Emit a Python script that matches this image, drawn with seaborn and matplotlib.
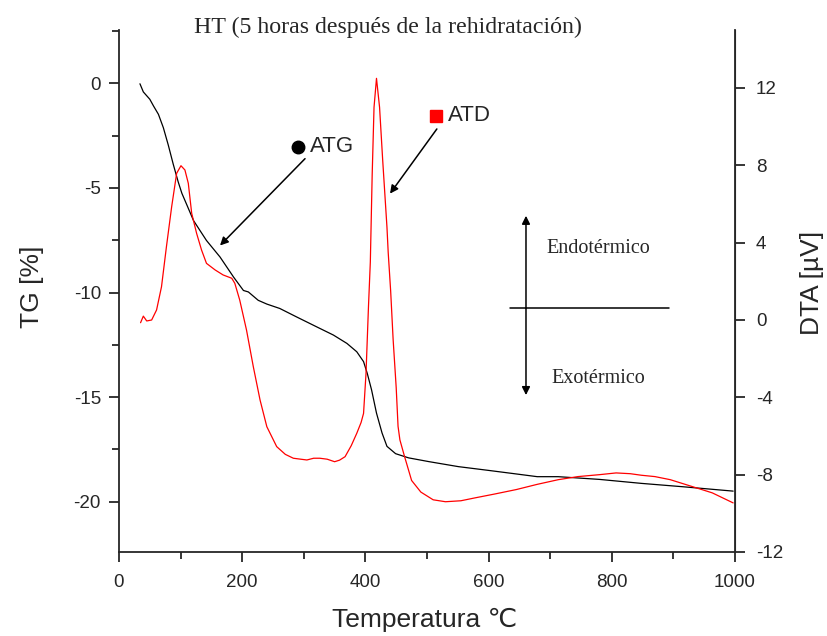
import matplotlib
matplotlib.use("Agg")
import matplotlib.pyplot as plt
import seaborn as sns
import numpy as np
import pandas as pd
from matplotlib.ticker import MultipleLocator

# ---- data ----
tg_x = [34, 39.5, 50, 56, 64, 72, 80, 88, 96, 102, 110, 121, 142, 164, 186, 202, 210, 226, 240, 261,
        288, 321, 348, 370, 386, 397, 403, 410, 418, 427, 435, 449, 470, 503, 551, 600, 645, 679, 713,
        780, 848, 915, 997]
tg_y = [-0.02, -0.41, -0.76, -1.08, -1.48, -2.12, -2.95, -3.86, -4.7, -5.25, -5.8, -6.56, -7.51, -8.3,
        -9.26, -9.9, -9.97, -10.37, -10.55, -10.76, -11.16, -11.64, -12.03, -12.43, -12.83, -13.3,
        -13.86, -14.65, -15.76, -16.71, -17.35, -17.7, -17.9, -18.08, -18.32, -18.5, -18.67, -18.8,
        -18.8, -18.93, -19.12, -19.28, -19.49]

dta_x = [35, 39.5, 45, 53, 61, 69, 77, 85.5, 93.6, 100.6, 107, 112.5, 118, 126, 134, 142, 156, 169,
         183, 188, 196, 207, 218, 229, 240, 256, 270, 283, 295, 305, 316, 326, 338, 350, 358, 367, 377,
         386, 393, 397, 401, 405, 408, 411, 414, 418, 423, 428, 435, 437, 441, 445, 450, 453, 456, 463,
         475, 490, 510, 530, 555, 578, 610, 645, 679, 713, 745, 780, 807, 830, 848, 870, 895, 929, 963, 997]
dta_y = [-0.14, 0.2, -0.05, 0.0, 0.52, 1.72, 3.79, 5.86, 7.59, 7.98, 7.76, 7.07, 5.52, 4.48, 3.62, 2.93,
         2.59, 2.33, 2.16, 1.9, 1.03, -0.52, -2.41, -4.14, -5.52, -6.55, -6.95, -7.15, -7.2, -7.24,
         -7.15, -7.15, -7.2, -7.33, -7.25, -7.07, -6.5, -5.86, -5.3, -4.83, -2.76, 0.7, 3.0, 7.5, 11.0,
         12.5, 11.0, 8.3, 4.8, 3.5, 1.5, -1.0, -3.5, -5.5, -6.2, -7.0, -8.3, -8.9, -9.3, -9.4, -9.35,
         -9.2, -9.0, -8.77, -8.5, -8.26, -8.1, -8.0, -7.91, -7.95, -8.03, -8.1, -8.26, -8.6, -8.94, -9.46]

x_ticks = [0, 200, 400, 600, 800, 1000]
tg_ticks = [0, -5, -10, -15, -20]
dta_ticks = [-12, -8, -4, 0, 4, 8, 12]

title = "HT (5 horas después de la rehidratación)"

# ---- style ----
sns.set_style("ticks")
plt.rcParams['font.family'] = ['Liberation Sans', 'DejaVu Sans']
plt.rcParams['axes.unicode_minus'] = False
serif = ['Liberation Serif', 'DejaVu Serif']

W, H = 828, 636
fig = plt.figure(figsize=(W / 100, H / 100), dpi=100)
ax = fig.add_axes([119 / W, 84 / H, 616 / W, 522 / H])

sns.lineplot(x=tg_x, y=tg_y, ax=ax, color='black', lw=0.9, sort=False, estimator=None)
ax.set_xlim(0, 1000)
ax.set_ylim(-22.4, 2.55)
ax.set_xticks(x_ticks)
ax.set_yticks(tg_ticks)
ax.xaxis.set_minor_locator(MultipleLocator(100))
ax.yaxis.set_minor_locator(MultipleLocator(2.5))
ax.tick_params(axis='both', which='major', direction='out', length=7, width=1.3, labelsize=13.5)
ax.tick_params(axis='x', which='major', pad=9)
ax.tick_params(axis='y', which='major', pad=6)
ax.tick_params(axis='both', which='minor', direction='out', length=5, width=1.3)
ax.spines['top'].set_visible(False)
for s in ['left', 'bottom']:
    ax.spines[s].set_linewidth(1.3)
ax.set_xlabel('')
ax.set_ylabel('')

ax2 = ax.twinx()
sns.lineplot(x=dta_x, y=dta_y, ax=ax2, color='#ff0000', lw=0.9, sort=False, estimator=None)
ax2.set_ylim(-12, 15)
ax2.set_yticks(dta_ticks)
ax2.tick_params(axis='y', which='major', direction='out', length=7, width=1.3, labelsize=13.5, pad=8)
ax2.spines['top'].set_visible(False)
ax2.spines['right'].set_linewidth(1.3)
ax2.spines['left'].set_visible(False)
ax2.spines['bottom'].set_visible(False)
ax2.set_ylabel('')

# ---- labels ----
fig.text(388 / W, 1 - 27 / H, title, family=serif, fontsize=17.2, ha='center', va='center')
fig.text(32 / W, 1 - 287 / H, 'TG [%]', rotation=90, fontsize=19, ha='center', va='center')
fig.text(812 / W, 1 - 283 / H, 'DTA [µV]', rotation=90, fontsize=19, ha='center', va='center')
fig.text(425 / W, 1 - 620 / H, 'Temperatura ℃', fontsize=19, ha='center', va='center')

# ---- legend markers / arrows ----
ax.plot([290.6], [-3.03], 'o', color='black', ms=9)
ax.text(310, -3.03, 'ATG', fontsize=16, va='center', ha='left')
ax.plot([514.6], [-1.56], 's', color='#ff0000', ms=9)
ax.text(534, -1.56, 'ATD', fontsize=16, va='center', ha='left')

arrow = dict(arrowstyle='-|>', color='black', lw=1.1, mutation_scale=12, shrinkA=0, shrinkB=0)
ax.annotate('', xy=(164, -7.75), xytext=(302, -3.6), arrowprops=arrow)
ax.annotate('', xy=(440, -5.27), xytext=(516, -2.18), arrowprops=arrow)

# endo / exo indicator
ax.annotate('', xy=(660.7, -6.33), xytext=(660.7, -10.75), arrowprops=arrow)
ax.annotate('', xy=(660.7, -14.9), xytext=(660.7, -10.75), arrowprops=arrow)
ax.plot([634.7, 892.9], [-10.75, -10.75], color='black', lw=1.1)
ax.text(777.6, -7.89, 'Endotérmico', family=serif, fontsize=14.5, ha='center', va='center')
ax.text(777.6, -14.13, 'Exotérmico', family=serif, fontsize=14.5, ha='center', va='center')

fig.savefig('out.png', dpi=100)
